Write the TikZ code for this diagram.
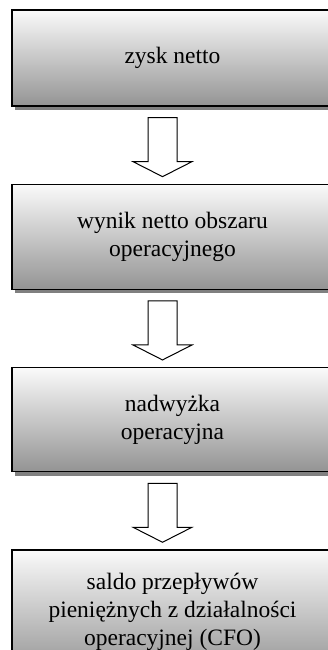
\documentclass[tikz,border=0pt]{standalone}
\usepackage{fontspec}
\setmainfont{Liberation Serif}
\usetikzlibrary{positioning}
\usetikzlibrary{calc}
\usetikzlibrary{shadows}
\tikzset{stage/.style = {draw, line width=1.3pt, minimum width=321pt, align=center,
                         top color=white!98!black, bottom color=white!58!black,
                         drop shadow={shadow xshift=3pt, shadow yshift=-4pt,
                                      fill=black!50, opacity=1},
                         font=\fontsize{23.5}{28}\selectfont}}
\tikzset{blockarrow/.style = {draw, fill=white, line width=1pt, line join=miter}}

\begin{document}
\begin{tikzpicture}[x=1pt, y=-1pt]
    \useasboundingbox (0, 0) rectangle (327, 650);

    \node [stage, minimum height=96pt] (zysk) at (172.5, 58) {zysk netto};
    \node [stage, minimum height=105pt, below=77pt of zysk] (wynik)
          {wynik netto obszaru\\operacyjnego};
    \node [stage, minimum height=104pt, below=77pt of wynik] (nadwyzka)
          {nadwyżka\\operacyjna};
    \node [stage, minimum height=124pt, below=77pt of nadwyzka] (cfo)
          {saldo przepływów\\pieniężnych z działalności\\operacyjnej (CFO)};

    \foreach \src in {zysk, wynik, nadwyzka} {
      \begin{scope}[shift={($(\src.south) + (-10, 0)$)}]
        \draw [blockarrow] (-14.5, 11) -- (-14.5, 55) -- (-29.5, 55) -- (0, 70)
                           -- (29.5, 55) -- (14.5, 55) -- (14.5, 11) -- cycle;
      \end{scope}
    }
\end{tikzpicture}
\end{document}
